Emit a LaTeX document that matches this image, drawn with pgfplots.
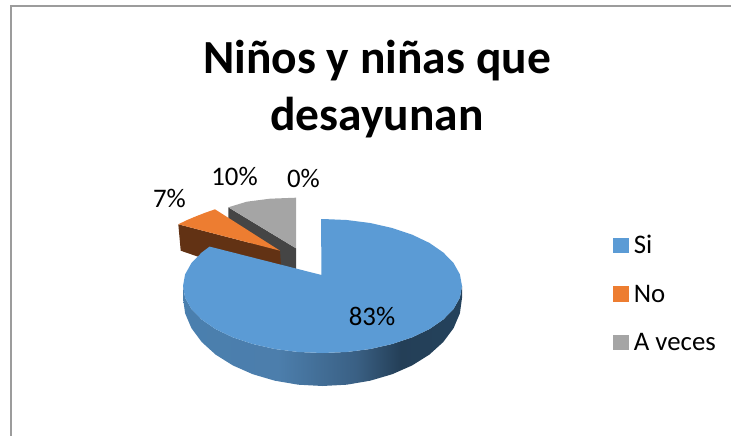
\documentclass[border=0pt]{standalone}
\usepackage{pgfplots}
\pgfplotsset{compat=1.18}
\usepackage{fontspec}
\setmainfont{Carlito}
\definecolor{siblue}{HTML}{5B9BD5}
\definecolor{noorange}{HTML}{ED7D31}
\definecolor{nobrown}{HTML}{623214}
\definecolor{avgray}{HTML}{A5A5A5}
\definecolor{avdark}{HTML}{454545}
\definecolor{frameline}{HTML}{9C9C9C}
\definecolor{rimA}{HTML}{4A7FAE}
\definecolor{rimB}{HTML}{4C7EAC}
\definecolor{rimC}{HTML}{3A6084}
\definecolor{rimD}{HTML}{243F57}
\definecolor{rimE}{HTML}{24425C}
% rim of the large slice, lit from the left
\pgfdeclarehorizontalshading{rimshade}{100bp}{
  color(0bp)=(rimA);
  color(25bp)=(rimA);
  color(42bp)=(rimB);
  color(56bp)=(rimC);
  color(64bp)=(rimD);
  color(75bp)=(rimE);
  color(100bp)=(rimE)}
\newcommand{\labelfont}{\fontsize{26.8}{26.8}\selectfont}
\begin{document}
\begin{tikzpicture}
\begin{axis}[
  hide axis, scale only axis, width=731pt, height=436pt,
  xmin=0, xmax=731, ymin=0, ymax=436, y dir=reverse,
  legend style={at={(axis cs:613,223.5)}, anchor=north west, draw=none, fill=none,
    inner sep=0pt, outer sep=0pt, row sep=0pt,
    nodes={font=\labelfont, text height=30pt, text depth=18.5pt, inner sep=0pt, anchor=base west}},
  legend cell align=left,
  legend image code/.code={\fill[#1] (0pt,1pt) rectangle (15pt,15.7pt);},
]
\addlegendimage{siblue}\addlegendentry{\hspace{5.5pt}Si}
\addlegendimage{noorange}\addlegendentry{\hspace{5.5pt}No}
\addlegendimage{avgray}\addlegendentry{\hspace{5.5pt}A veces}

% keeps the whole plotting area in the picture
\addplot[forget plot, draw=none] coordinates {(0,0) (731,436)};

% frame of the chart area
\addplot[forget plot, frameline, line width=1.4pt] coordinates {(731,6) (11,6) (11,436)};

% A veces, 10 %
\addplot[forget plot, draw=none, fill=avdark] coordinates
  {(228.3,207.3) (296,248.3) (296,272) (280,266) (228.3,225)} -- cycle;
\addplot[forget plot, draw=none, fill=avgray] coordinates
  {(228.3,207.3) (246.7,201.7) (270,198.7) (296,197.7) (296,248.3)} -- cycle;

% No, 7 %
\addplot[forget plot, draw=none, fill=nobrown] coordinates
  {(178.3,224.3) (280,250.7) (281,266) (199,257) (180.7,250.7)} -- cycle;
\addplot[forget plot, draw=none, fill=noorange] coordinates
  {(178.3,224.3) (186.5,220.3) (195,216.7) (205,212.8) (215,209.3) (280,250.7)} -- cycle;

% Si, 83 %: rim, then top face
\addplot[forget plot, draw=none, shading=rimshade] coordinates
  {(462,286) (459.9,297.6) (453.6,308.9) (443.3,319.5) (429.4,329.1) (412.2,337.3)
   (392.25,344) (370.2,349) (346.7,352) (322.5,353) (298.3,352) (274.8,349)
   (252.75,344) (232.8,337.3) (215.6,329.1) (201.7,319.5) (191.4,308.9) (185.1,297.6) (183,286)
   (183,298) (185.1,313.3) (191.4,328.1) (201.7,342) (215.6,354.6) (232.8,365.4)
   (252.75,374.2) (274.8,380.7) (298.3,384.7) (322.5,386) (346.7,384.7) (370.2,380.7)
   (392.25,374.2) (412.2,365.4) (429.4,354.6) (443.3,342) (453.6,328.1) (459.9,313.3) (462,298)} -- cycle;
\addplot[forget plot, draw=none, fill=siblue] coordinates
  {(321.5,275) (321,219) (322.5,219) (346.7,220) (370.2,223) (392.25,228) (412.2,234.7)
   (429.4,242.9) (443.3,252.5) (453.6,263.1) (459.9,274.4) (462,286) (459.9,297.6)
   (453.6,308.9) (443.3,319.5) (429.4,329.1) (412.2,337.3) (392.25,344) (370.2,349)
   (346.7,352) (322.5,353) (298.3,352) (274.8,349) (252.75,344) (232.8,337.3)
   (215.6,329.1) (201.7,319.5) (191.4,308.9) (185.1,297.6) (183,286) (185.1,274.4)
   (191.4,263.1) (201.7,252.5) (209.6,246.6)} -- cycle;

% slice percentages
\node[font=\labelfont] at (axis cs:372,316) {83\%};
\node[font=\labelfont] at (axis cs:169.5,198) {7\%};
\node[font=\labelfont] at (axis cs:234.5,176) {10\%};
\node[font=\labelfont] at (axis cs:303.5,178) {0\%};

% title
\node[font=\fontsize{47.5}{57}\selectfont\bfseries, align=center] at (axis cs:377,89.5)
  {Niños y niñas que\\desayunan};
\end{axis}
\end{tikzpicture}
\end{document}
